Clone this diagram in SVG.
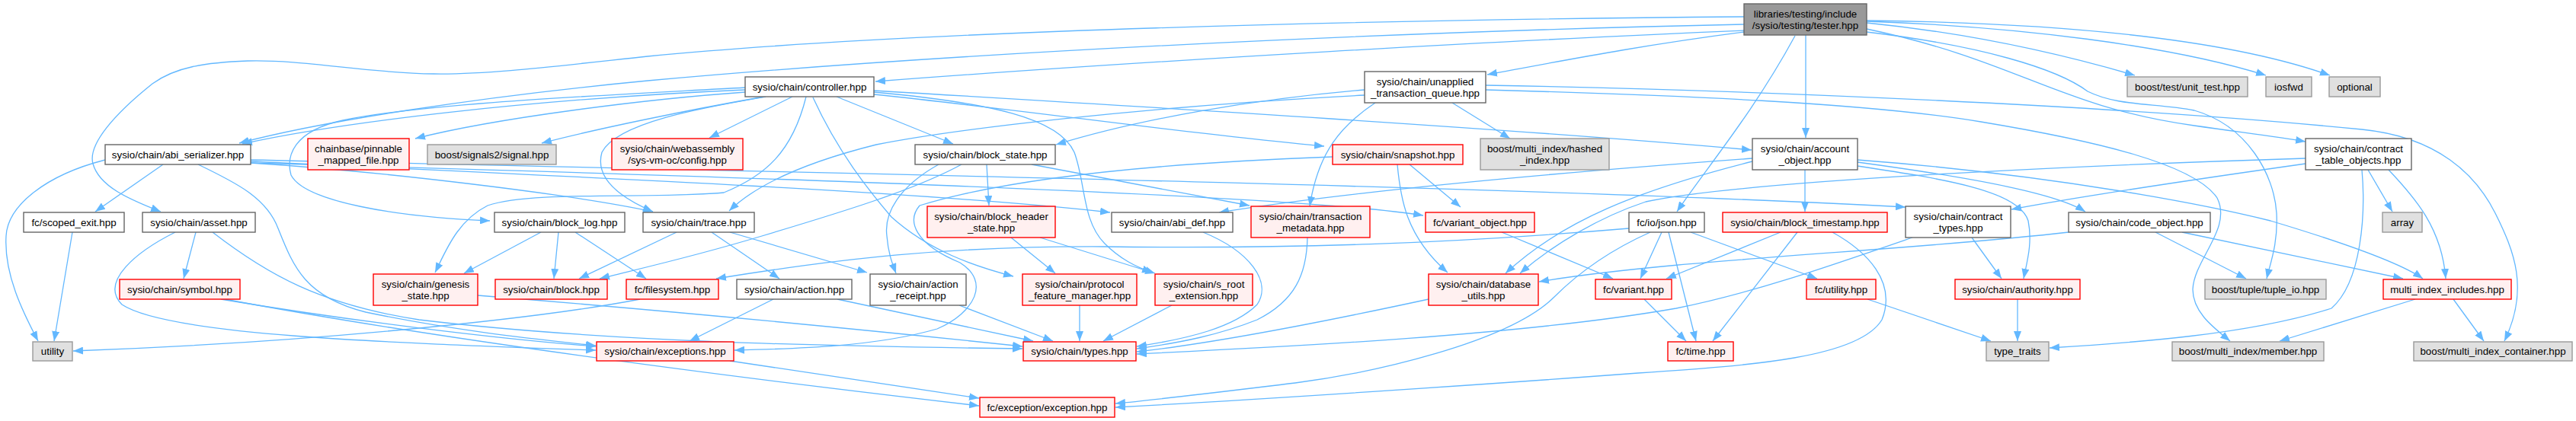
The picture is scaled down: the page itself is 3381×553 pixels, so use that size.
<svg xmlns="http://www.w3.org/2000/svg" width="3381" height="553" viewBox="0 0 3381 553">
<style>
.n rect{stroke-width:1.4}
.w rect{fill:#ffffff;stroke:#666666}
.r rect{fill:#fff0f0;stroke:#ff0000}
.g rect{fill:#e0e0e0;stroke:#999999}
.root rect{fill:#999999;stroke:#666666}
.n text{font-family:"Liberation Sans",Arial,sans-serif;font-size:13.33px;fill:#000;text-anchor:middle}
#edges path{fill:none;stroke:#63b8ff;stroke-width:1.3;marker-end:url(#ah)}
</style>
<defs>
<marker id="ah" markerUnits="userSpaceOnUse" markerWidth="13" markerHeight="10" refX="13" refY="5" orient="auto">
<path d="M0,0 L13,5 L0,10 z" fill="#63b8ff"/>
</marker>
</defs>
<rect width="3381" height="553" fill="#ffffff"/>
<g id="edges">
<path d="M2289,22 C1800,26 1200,40 850,74 C720,88 640,98 569,97 C480,96 400,78 325,80 C270,82 230,88 200,110 C150,150 115,190 122,215 C130,245 170,262 211,278"/>
<path d="M2289,32 C1900,40 1300,65 850,106 C620,128 420,160 314,188"/>
<path d="M2289,40 C2000,52 1500,80 1149,107"/>
<path d="M2289,42 C2150,60 2050,80 1952,98"/>
<path d="M2370,46 L2370,181"/>
<path d="M2356,47 C2300,150 2240,220 2201,278"/>
<path d="M2450,30 C2600,45 2720,75 2802,99"/>
<path d="M2450,28 C2650,35 2850,60 2974,99"/>
<path d="M2450,27 C2700,30 2920,50 3058,99"/>
<path d="M2450,38 C2650,80 2700,140 2880,165 C2950,175 2990,180 3026,186"/>
<path d="M2450,42 C2600,60 2700,90 2740,120 C2780,140 2830,135 2880,145 C2950,165 2985,230 2988,280 C2990,320 2980,345 2975,366"/>
<path d="M1791,118 C1650,130 1500,155 1386,190"/>
<path d="M1791,125 C1500,140 1250,170 1150,190 C1050,215 990,245 957,277"/>
<path d="M1805,135 C1760,165 1730,200 1719,271"/>
<path d="M1906,135 L1982,182"/>
<path d="M1950,118 C2200,125 2450,135 2600,160 C2750,185 2880,215 2910,260 C2930,300 2880,340 2878,380 C2878,410 2905,430 2927,448"/>
<path d="M1950,112 C2300,118 2800,140 3100,170 C3200,180 3250,230 3275,280 C3300,330 3320,380 3287,448"/>
<path d="M978,118 C700,130 450,160 318,189"/>
<path d="M978,121 C850,130 650,155 545,182"/>
<path d="M1003,127 C900,145 780,170 711,188"/>
<path d="M1040,127 L931,181"/>
<path d="M1098,127 L1251,189"/>
<path d="M1147,124 C1350,145 1550,175 1738,192"/>
<path d="M978,115 C800,125 560,135 450,158 C385,172 375,205 382,230 C400,265 520,285 643,290"/>
<path d="M1005,127 C930,140 810,160 790,200 C780,235 815,260 857,278"/>
<path d="M1058,127 C1040,200 1004,231 950,253 C850,262 700,250 640,270 C600,290 585,330 571,358"/>
<path d="M1147,119 C1500,140 2000,170 2299,197"/>
<path d="M1067,128 C1100,200 1140,250 1170,285 C1220,330 1280,350 1330,363"/>
<path d="M1147,121 C1300,135 1390,155 1410,200 C1425,240 1420,290 1450,320 C1470,340 1490,350 1512,358"/>
<path d="M214,216 L125,278"/>
<path d="M138,210 C60,230 10,270 8,310 C5,360 30,410 50,448"/>
<path d="M260,216 C310,240 350,260 365,300 C385,350 400,390 480,410 C600,435 700,445 782,454"/>
<path d="M329,214 C500,225 750,255 857,278"/>
<path d="M329,212 C700,230 1200,250 1457,279"/>
<path d="M329,210 C1000,225 2000,245 2501,272"/>
<path d="M329,214 C900,230 1700,255 1868,283"/>
<path d="M257,305 L241,366"/>
<path d="M230,305 C180,330 130,370 160,400 C220,440 500,450 782,460"/>
<path d="M279,305 C350,360 420,400 550,420 C800,450 1100,455 1342,458"/>
<path d="M290,393 C450,420 650,445 782,455"/>
<path d="M295,393 C600,450 1000,500 1285,533"/>
<path d="M627,388 C900,410 1200,440 1342,455"/>
<path d="M710,305 L609,359"/>
<path d="M733,305 L727,366"/>
<path d="M755,305 L848,366"/>
<path d="M888,305 L760,366"/>
<path d="M934,305 L1023,366"/>
<path d="M958,305 L1138,358"/>
<path d="M1295,216 L1298,270"/>
<path d="M1262,216 C1200,250 1100,280 1000,310 C900,340 830,355 787,366"/>
<path d="M1232,216 C1180,245 1160,280 1164,310 C1166,335 1172,348 1176,359"/>
<path d="M1354,216 L1640,270"/>
<path d="M1327,312 L1385,359"/>
<path d="M1365,312 L1516,359"/>
<path d="M1579,305 C1640,330 1670,370 1650,400 C1620,430 1560,445 1492,455"/>
<path d="M1417,401 L1417,448"/>
<path d="M1538,401 L1448,448"/>
<path d="M1015,393 L905,448"/>
<path d="M1099,393 L1356,448"/>
<path d="M1259,401 L1382,448"/>
<path d="M1716,312 C1715,360 1700,395 1650,420 C1600,440 1550,450 1492,458"/>
<path d="M1875,393 C1750,420 1600,450 1492,462"/>
<path d="M1850,216 L1917,272"/>
<path d="M1834,216 C1838,260 1845,310 1900,358"/>
<path d="M1749,206 C1500,215 1314,237 1207,270 C1190,290 1200,320 1260,345 C1300,370 1280,410 1230,432 C1150,455 1050,458 964,460"/>
<path d="M1971,305 L2117,366"/>
<path d="M2181,305 L2153,366"/>
<path d="M2190,305 L2226,448"/>
<path d="M2219,305 L2385,366"/>
<path d="M2138,300 C1900,320 1700,327 1450,324 C1243,323 1100,340 940,366"/>
<path d="M2166,305 C2110,330 2070,360 2040,390 C1980,450 1800,490 1700,503 C1600,515 1520,525 1464,530"/>
<path d="M2337,305 L2187,366"/>
<path d="M2359,305 L2248,448"/>
<path d="M2405,305 C2450,330 2490,370 2470,420 C2440,470 2300,480 2150,490 C1950,505 1650,525 1464,535"/>
<path d="M2588,312 L2627,366"/>
<path d="M2510,312 C2400,350 2300,385 2200,405 C2000,440 1700,455 1492,465"/>
<path d="M2715,305 C2500,330 2200,340 2020,370"/>
<path d="M2829,305 L2948,366"/>
<path d="M2864,305 L3154,366"/>
<path d="M2648,393 L2648,448"/>
<path d="M2451,393 L2613,448"/>
<path d="M3026,215 C2850,240 2720,260 2640,275"/>
<path d="M3026,208 C2800,215 2300,235 2160,265 C2100,285 2040,320 1995,359"/>
<path d="M3108,223 L3140,278"/>
<path d="M3135,223 C3170,260 3205,300 3210,366"/>
<path d="M3100,223 C3105,280 3100,370 3060,405 C2950,440 2800,450 2690,457"/>
<path d="M2300,212 C2150,250 2050,290 1976,359"/>
<path d="M2438,218 C2550,235 2650,250 2662,290 C2668,320 2660,345 2656,366"/>
<path d="M2438,213 C2600,235 2700,255 2737,278"/>
<path d="M2369,223 L2369,278"/>
<path d="M2300,208 C2000,230 1750,255 1600,279"/>
<path d="M2438,210 C2700,230 2900,270 2980,290 C3080,320 3150,345 3180,366"/>
<path d="M3170,393 L2992,448"/>
<path d="M3220,393 L3260,448"/>
<path d="M958,474 L1285,523"/>
<path d="M840,393 C700,420 400,450 96,461"/>
<path d="M95,305 L71,448"/>
<path d="M2158,393 L2213,448"/>
</g>
<g id="tester" class="n root"><rect x="2289" y="5" width="161" height="41"/><text x="2369.5" y="22.7">libraries/testing/include</text><text x="2369.5" y="37.7">/sysio/testing/tester.hpp</text></g>
<g id="controller" class="n w"><rect x="978" y="101" width="169" height="26"/><text x="1062.5" y="118.7">sysio/chain/controller.hpp</text></g>
<g id="unapplied" class="n w"><rect x="1791" y="94" width="159" height="41"/><text x="1870.5" y="111.7">sysio/chain/unapplied</text><text x="1870.5" y="126.7">_transaction_queue.hpp</text></g>
<g id="unit_test" class="n g"><rect x="2792" y="101" width="158" height="26"/><text x="2871" y="118.7">boost/test/unit_test.hpp</text></g>
<g id="iosfwd" class="n g"><rect x="2974" y="101" width="60" height="26"/><text x="3004" y="118.7">iosfwd</text></g>
<g id="optional" class="n g"><rect x="3057" y="101" width="67" height="26"/><text x="3090.5" y="118.7">optional</text></g>
<g id="abi_serializer" class="n w"><rect x="138" y="190" width="191" height="26"/><text x="233.5" y="207.7">sysio/chain/abi_serializer.hpp</text></g>
<g id="pinnable" class="n r"><rect x="404" y="182" width="133" height="41"/><text x="470.5" y="199.7">chainbase/pinnable</text><text x="470.5" y="214.7">_mapped_file.hpp</text></g>
<g id="signal" class="n g"><rect x="561" y="190" width="169" height="26"/><text x="645.5" y="207.7">boost/signals2/signal.hpp</text></g>
<g id="wasm_config" class="n r"><rect x="803" y="182" width="172" height="41"/><text x="889" y="199.7">sysio/chain/webassembly</text><text x="889" y="214.7">/sys-vm-oc/config.hpp</text></g>
<g id="block_state" class="n w"><rect x="1201" y="190" width="184" height="26"/><text x="1293" y="207.7">sysio/chain/block_state.hpp</text></g>
<g id="snapshot" class="n r"><rect x="1749" y="190" width="171" height="26"/><text x="1834.5" y="207.7">sysio/chain/snapshot.hpp</text></g>
<g id="hashed_index" class="n g"><rect x="1943" y="182" width="169" height="41"/><text x="2027.5" y="199.7">boost/multi_index/hashed</text><text x="2027.5" y="214.7">_index.hpp</text></g>
<g id="account_object" class="n w"><rect x="2300" y="182" width="138" height="41"/><text x="2369" y="199.7">sysio/chain/account</text><text x="2369" y="214.7">_object.hpp</text></g>
<g id="contract_table_objects" class="n w"><rect x="3026" y="182" width="139" height="41"/><text x="3095.5" y="199.7">sysio/chain/contract</text><text x="3095.5" y="214.7">_table_objects.hpp</text></g>
<g id="scoped_exit" class="n w"><rect x="31" y="279" width="132" height="26"/><text x="97" y="296.7">fc/scoped_exit.hpp</text></g>
<g id="asset" class="n w"><rect x="187" y="279" width="148" height="26"/><text x="261" y="296.7">sysio/chain/asset.hpp</text></g>
<g id="block_log" class="n w"><rect x="649" y="279" width="171" height="26"/><text x="734.5" y="296.7">sysio/chain/block_log.hpp</text></g>
<g id="trace" class="n w"><rect x="844" y="279" width="146" height="26"/><text x="917" y="296.7">sysio/chain/trace.hpp</text></g>
<g id="block_header_state" class="n r"><rect x="1217" y="271" width="168" height="41"/><text x="1301" y="288.7">sysio/chain/block_header</text><text x="1301" y="303.7">_state.hpp</text></g>
<g id="abi_def" class="n w"><rect x="1459" y="279" width="159" height="26"/><text x="1538.5" y="296.7">sysio/chain/abi_def.hpp</text></g>
<g id="transaction_metadata" class="n r"><rect x="1642" y="271" width="156" height="41"/><text x="1720" y="288.7">sysio/chain/transaction</text><text x="1720" y="303.7">_metadata.hpp</text></g>
<g id="variant_object" class="n r"><rect x="1871" y="279" width="143" height="26"/><text x="1942.5" y="296.7">fc/variant_object.hpp</text></g>
<g id="json" class="n w"><rect x="2138" y="279" width="99" height="26"/><text x="2187.5" y="296.7">fc/io/json.hpp</text></g>
<g id="block_timestamp" class="n r"><rect x="2261" y="279" width="216" height="26"/><text x="2369" y="296.7">sysio/chain/block_timestamp.hpp</text></g>
<g id="contract_types" class="n w"><rect x="2501" y="271" width="138" height="41"/><text x="2570" y="288.7">sysio/chain/contract</text><text x="2570" y="303.7">_types.hpp</text></g>
<g id="code_object" class="n w"><rect x="2715" y="279" width="186" height="26"/><text x="2808" y="296.7">sysio/chain/code_object.hpp</text></g>
<g id="array" class="n g"><rect x="3127" y="279" width="52" height="26"/><text x="3153" y="296.7">array</text></g>
<g id="symbol" class="n r"><rect x="157" y="367" width="158" height="26"/><text x="236" y="384.7">sysio/chain/symbol.hpp</text></g>
<g id="genesis_state" class="n r"><rect x="490" y="360" width="137" height="41"/><text x="558.5" y="377.7">sysio/chain/genesis</text><text x="558.5" y="392.7">_state.hpp</text></g>
<g id="block" class="n r"><rect x="650" y="367" width="147" height="26"/><text x="723.5" y="384.7">sysio/chain/block.hpp</text></g>
<g id="filesystem" class="n r"><rect x="822" y="367" width="121" height="26"/><text x="882.5" y="384.7">fc/filesystem.hpp</text></g>
<g id="action" class="n w"><rect x="967" y="367" width="151" height="26"/><text x="1042.5" y="384.7">sysio/chain/action.hpp</text></g>
<g id="action_receipt" class="n w"><rect x="1142" y="360" width="126" height="41"/><text x="1205" y="377.7">sysio/chain/action</text><text x="1205" y="392.7">_receipt.hpp</text></g>
<g id="protocol_feature_manager" class="n r"><rect x="1342" y="360" width="150" height="41"/><text x="1417" y="377.7">sysio/chain/protocol</text><text x="1417" y="392.7">_feature_manager.hpp</text></g>
<g id="s_root_extension" class="n r"><rect x="1516" y="360" width="128" height="41"/><text x="1580" y="377.7">sysio/chain/s_root</text><text x="1580" y="392.7">_extension.hpp</text></g>
<g id="database_utils" class="n r"><rect x="1875" y="360" width="144" height="41"/><text x="1947" y="377.7">sysio/chain/database</text><text x="1947" y="392.7">_utils.hpp</text></g>
<g id="variant" class="n r"><rect x="2094" y="367" width="100" height="26"/><text x="2144" y="384.7">fc/variant.hpp</text></g>
<g id="fc_utility" class="n r"><rect x="2371" y="367" width="91" height="26"/><text x="2416.5" y="384.7">fc/utility.hpp</text></g>
<g id="authority" class="n r"><rect x="2566" y="367" width="164" height="26"/><text x="2648" y="384.7">sysio/chain/authority.hpp</text></g>
<g id="tuple_io" class="n g"><rect x="2894" y="367" width="159" height="26"/><text x="2973.5" y="384.7">boost/tuple/tuple_io.hpp</text></g>
<g id="multi_index_includes" class="n r"><rect x="3128" y="367" width="168" height="26"/><text x="3212" y="384.7">multi_index_includes.hpp</text></g>
<g id="utility" class="n g"><rect x="43" y="449" width="52" height="25"/><text x="69" y="466.2">utility</text></g>
<g id="exceptions" class="n r"><rect x="783" y="449" width="180" height="25"/><text x="873" y="466.2">sysio/chain/exceptions.hpp</text></g>
<g id="types" class="n r"><rect x="1343" y="449" width="148" height="25"/><text x="1417" y="466.2">sysio/chain/types.hpp</text></g>
<g id="time" class="n r"><rect x="2189" y="449" width="86" height="25"/><text x="2232" y="466.2">fc/time.hpp</text></g>
<g id="type_traits" class="n g"><rect x="2607" y="449" width="82" height="25"/><text x="2648" y="466.2">type_traits</text></g>
<g id="member" class="n g"><rect x="2851" y="449" width="199" height="25"/><text x="2950.5" y="466.2">boost/multi_index/member.hpp</text></g>
<g id="multi_index_container" class="n g"><rect x="3168" y="449" width="208" height="25"/><text x="3272" y="466.2">boost/multi_index_container.hpp</text></g>
<g id="fc_exception" class="n r"><rect x="1286" y="522" width="177" height="26"/><text x="1374.5" y="539.7">fc/exception/exception.hpp</text></g>
</svg>
